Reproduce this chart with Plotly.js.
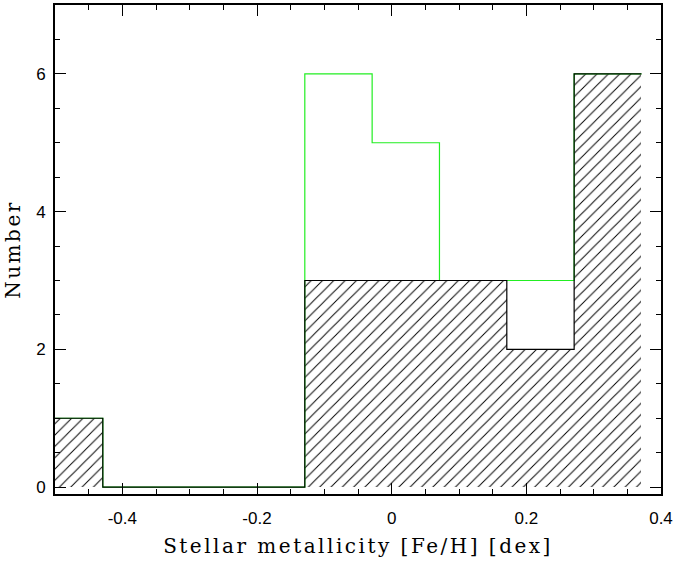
<!DOCTYPE html>
<html>
<head>
<meta charset="utf-8">
<script src="https://cdn.plot.ly/plotly-3.0.1.min.js"></script>
<style>
html,body{margin:0;padding:0;background:#fff;}
#chart{width:674px;height:562px;}
.xtitle, .ytitle {letter-spacing: 2.5px;}
</style>
</head>
<body>
<div id="chart"></div>
<script>
// Bin centres in [Fe/H] (dex), bin width 0.1
const binCenters = [-0.479, -0.379, -0.279, -0.179, -0.079, 0.021, 0.121, 0.221, 0.321];
const binWidth = 0.1;
// Hatched (black) histogram counts
const blackCounts = [1, 0, 0, 0, 3, 3, 3, 2, 6];
// Green histogram counts
const greenCounts = [1, 0, 0, 0, 6, 5, 3, 3, 6];
const xTickVals = [-0.4, -0.2, 0, 0.2, 0.4];
const xTickText = ['-0.4', '-0.2', '0', '0.2', '0.4'];
const yTickVals = [0, 2, 4, 6];
const yTickText = ['0', '2', '4', '6'];

function stepOutline(centers, vals, w) {
  const xs = [], ys = [];
  for (let i = 0; i < centers.length; i++) {
    xs.push(centers[i] - w / 2);
    ys.push(vals[i]);
  }
  xs.push(centers[centers.length - 1] + w / 2);
  ys.push(vals[vals.length - 1]);
  return {xs, ys};
}

const g = stepOutline(binCenters, greenCounts, binWidth);
const b = stepOutline(binCenters, blackCounts, binWidth);

const traces = [
  {
    type: 'bar', x: binCenters, y: blackCounts, width: binWidth,
    marker: {color: 'white', line: {width: 0},
      pattern: {shape: '/', bgcolor: 'white', fgcolor: 'black', size: 8, solidity: 0.12}},
    hoverinfo: 'skip', showlegend: false
  },
  {
    type: 'scatter', mode: 'lines', x: g.xs, y: g.ys,
    line: {shape: 'hv', color: '#22ee22', width: 1.2}, showlegend: false
  },
  {
    type: 'scatter', mode: 'lines', x: b.xs, y: b.ys,
    line: {shape: 'hv', color: 'black', width: 1.2}, showlegend: false
  }
];

const axisCommon = {
  showgrid: false, zeroline: false, showline: true, linecolor: 'black', linewidth: 2,
  mirror: 'allticks', ticks: 'inside', ticklen: 11, tickwidth: 1, tickcolor: 'black',
  tickfont: {family: 'Liberation Sans', size: 17, color: 'black'}
};

const layout = {
  width: 674, height: 562,
  margin: {l: 55, r: 13, t: 5, b: 68},
  paper_bgcolor: 'white', plot_bgcolor: 'white',
  bargap: 0,
  xaxis: Object.assign({}, axisCommon, {
    range: [-0.5, 0.4], tickvals: xTickVals, ticktext: xTickText,
    ticklabelstandoff: 8,
    minor: {dtick: 0.05, tick0: 0, ticks: 'inside', ticklen: 5, tickwidth: 1, tickcolor: 'black', showgrid: false},
    title: {text: 'Stellar metallicity [Fe/H] [dex]', standoff: 12,
      font: {family: 'DejaVu Serif, serif', size: 20, color: 'black'}}
  }),
  yaxis: Object.assign({}, axisCommon, {
    range: [-0.1, 7], tickvals: yTickVals, ticktext: yTickText,
    ticklabelstandoff: 4,
    minor: {dtick: 0.5, tick0: 0, ticks: 'inside', ticklen: 5, tickwidth: 1, tickcolor: 'black', showgrid: false},
    title: {text: 'Number', standoff: 10,
      font: {family: 'DejaVu Serif, serif', size: 20, color: 'black'}}
  })
};

Plotly.newPlot('chart', traces, layout, {displayModeBar: false, staticPlot: true});
</script>
</body>
</html>
